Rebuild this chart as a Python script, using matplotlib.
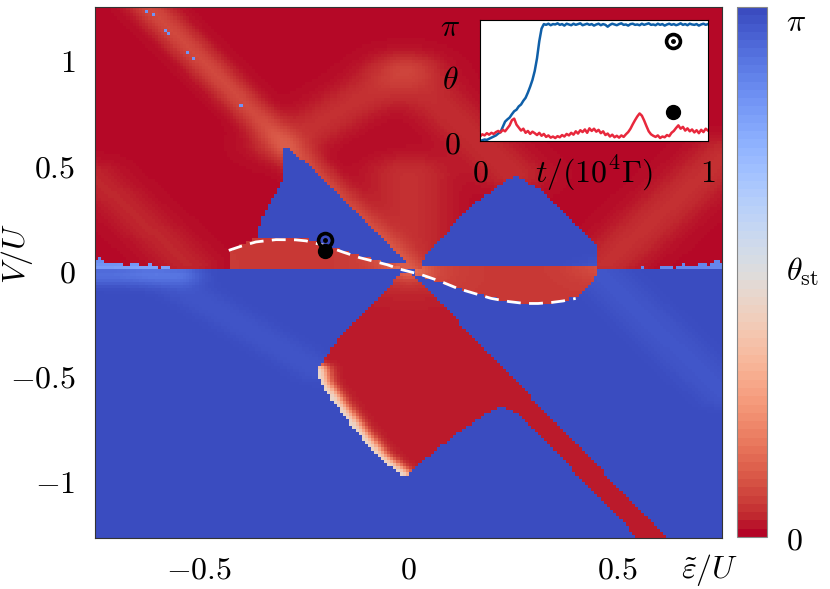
import numpy as np
import matplotlib
matplotlib.use("Agg")
import matplotlib.pyplot as plt
from matplotlib.path import Path
from matplotlib.cm import ScalarMappable
from matplotlib.colors import Normalize

plt.rcParams['mathtext.fontset'] = 'cm'
plt.rcParams['font.family'] = 'DejaVu Serif'
plt.rcParams['font.size'] = 23

# ---- phase diagram data (eps/U, V/U) ----
eps_lim = [-0.75, 0.75]
V_lim = [-1.27, 1.25]
n_eps, n_V = 200, 170

# regions with theta_st = pi in the upper half
blue_left = [(-0.302, 0.60), (-0.245, 0.51), (-0.157, 0.333), (-0.043, 0.11), (-0.007, 0.035),
             (-0.051, 0.032), (-0.157, 0.095), (-0.245, 0.148), (-0.317, 0.155), (-0.36, 0.16),
             (-0.357, 0.238), (-0.304, 0.429)]
blue_mountain = [(0.029, 0.014), (0.036, 0.062), (0.101, 0.205), (0.157, 0.319), (0.254, 0.457),
                 (0.319, 0.381), (0.391, 0.238), (0.452, 0.11), (0.452, 0.014)]

# regions with theta_st ~ 0 in the lower half (and the band under the dashed line)
red_kite = [(0.0, 0.0), (-0.019, -0.014), (-0.099, -0.19), (-0.171, -0.333), (-0.22, -0.476),
            (-0.213, -0.538), (-0.171, -0.652), (-0.123, -0.776), (-0.075, -0.89), (-0.019, -0.976),
            (-0.007, -0.986), (0.036, -0.905), (0.118, -0.776), (0.19, -0.676), (0.222, -0.652),
            (0.263, -0.681), (0.56, -1.30), (0.63, -1.30)]
red_band_right = [(0.03, 0.014), (0.452, 0.014), (0.452, -0.014), (0.432, -0.081), (0.399, -0.133),
                  (0.343, -0.152), (0.278, -0.157), (0.198, -0.133), (0.118, -0.086), (0.036, -0.032),
                  (0.01, -0.01)]
red_band_left = [(-0.43, 0.0), (-0.43, 0.095), (-0.36, 0.16), (-0.317, 0.155), (-0.245, 0.148),
                 (-0.157, 0.095), (-0.051, 0.032), (0.0, 0.0)]
red_levels = [0.07, 0.18, 0.18]

# noisy blue fringes above V = 0 near the edges
noise_left = [(-0.76, 0.0), (-0.76, 0.05), (-0.74, 0.06), (-0.72, 0.03), (-0.70, 0.045), (-0.68, 0.02),
              (-0.66, 0.04), (-0.64, 0.015), (-0.62, 0.03), (-0.60, 0.01), (-0.58, 0.02), (-0.56, 0.0)]
noise_right = [(0.46, 0.0), (0.50, 0.008), (0.53, 0.0), (0.56, 0.015), (0.59, 0.005), (0.62, 0.02),
               (0.64, 0.008), (0.66, 0.03), (0.68, 0.015), (0.70, 0.04), (0.72, 0.02), (0.74, 0.05),
               (0.76, 0.03), (0.76, 0.0)]
noise_level = 2.7

# lighter stripes: start, end, width, theta shift
red_stripes = [((-0.63, 1.27), (0.0, 0.0), 0.045, 0.24),
               ((-0.01, 0.95), (-0.30, 0.60), 0.08, 0.12),
               ((-0.01, 0.95), (0.25, 0.46), 0.08, 0.10),
               ((0.0, 0.0), (0.0, 0.45), 0.10, 0.12),
               ((0.47, 0.03), (0.76, 0.55), 0.08, 0.12),
               ((-0.76, 0.45), (-0.53, 0.03), 0.07, 0.08)]
kite_fringe = [(-0.22, -0.476), (-0.213, -0.538), (-0.171, -0.652), (-0.123, -0.776),
               (-0.075, -0.89), (-0.019, -0.976)]
blue_stripes = [((-0.22, -0.476), (-0.62, 0.0), 0.06, -0.07),
                ((0.457, -0.014), (0.754, -0.586), 0.07, -0.08),
                ((-0.76, -0.02), (-0.55, -0.02), 0.05, -0.25)]

speckles = [(-0.628, 1.238), (-0.616, 1.214), (-0.582, 1.152), (-0.575, 1.133),
            (-0.533, 1.048), (-0.514, 1.005), (-0.401, 0.795)]

# dashed curve
dash_eps = [-0.43, -0.40, -0.365, -0.317, -0.27, -0.245, -0.20, -0.157, -0.116, -0.051, -0.019,
            0.03, 0.074, 0.118, 0.174, 0.198, 0.24, 0.278, 0.31, 0.343, 0.37, 0.40]
dash_V = [0.095, 0.115, 0.135, 0.146, 0.145, 0.14, 0.118, 0.087, 0.06, 0.027, 0.005,
          -0.02, -0.05, -0.086, -0.119, -0.133, -0.148, -0.157, -0.157, -0.152, -0.145, -0.133]

# marked points
pt_open = (-0.2, 0.143)
pt_full = (-0.2, 0.092)

# ---- inset time series ----
blue_theta = [0.00, 0.02, 0.04, 0.03, 0.06, 0.09, 0.12, 0.15, 0.20, 0.24,
              0.38, 0.52, 0.58, 0.63, 0.72, 0.80, 0.84, 0.93, 0.98, 1.08,
              1.16, 1.30, 1.46, 1.64, 1.88, 2.22, 2.68, 3.02, 3.14,
              3.12, 3.15, 3.11, 3.14, 3.13, 3.16, 3.12, 3.14, 3.10, 3.15,
              3.13, 3.11, 3.15, 3.12, 3.14, 3.16, 3.11, 3.13, 3.15, 3.12,
              3.14, 3.10, 3.13, 3.15, 3.11, 3.14, 3.12, 3.07, 3.12, 3.15,
              3.13, 3.11, 3.14, 3.16, 3.12, 3.13, 3.10, 3.14, 3.15, 3.12,
              3.13, 3.11, 3.15, 3.12, 3.14, 3.16, 3.12, 3.13, 3.11, 3.15,
              3.12, 3.14, 3.10, 3.13, 3.15, 3.12, 3.14, 3.11, 3.13, 3.16,
              3.12, 3.14, 3.11, 3.15, 3.13, 3.12, 3.14, 3.10, 3.13, 3.15,
              3.12, 3.14]
red_theta = [0.12, 0.18, 0.15, 0.21, 0.17, 0.22, 0.19, 0.24, 0.27, 0.23,
             0.30, 0.26, 0.34, 0.42, 0.56, 0.60, 0.44, 0.36, 0.28, 0.33,
             0.22, 0.27, 0.19, 0.25, 0.21, 0.16, 0.22, 0.14, 0.19, 0.11,
             0.15, 0.09, 0.12, 0.08, 0.13, 0.10, 0.16, 0.12, 0.19, 0.15,
             0.22, 0.17, 0.26, 0.20, 0.29, 0.24, 0.31, 0.22, 0.34, 0.27,
             0.33, 0.25, 0.30, 0.21, 0.26, 0.16, 0.20, 0.12, 0.17, 0.10,
             0.14, 0.09, 0.15, 0.11, 0.18, 0.24, 0.33, 0.45, 0.56, 0.66,
             0.74, 0.68, 0.55, 0.40, 0.26, 0.18, 0.14, 0.11, 0.15, 0.08,
             0.12, 0.10, 0.16, 0.13, 0.22, 0.27, 0.35, 0.42, 0.33, 0.38,
             0.28, 0.34, 0.26, 0.31, 0.23, 0.29, 0.21, 0.30, 0.24, 0.33,
             0.28]
t_blue = np.linspace(0, 1, len(blue_theta))
t_red = np.linspace(0, 1, len(red_theta))
inset_open = (0.845, 2.69)
inset_full = (0.845, 0.78)


# ---- build the theta_st map on a grid ----
eps = np.linspace(eps_lim[0], eps_lim[1], n_eps)
V = np.linspace(V_lim[0], V_lim[1], n_V)
X, Y = np.meshgrid(eps, V)
pts = np.column_stack([X.ravel(), Y.ravel()])


def inside(poly):
    return Path(poly).contains_points(pts).reshape(X.shape)


def seg_dist(a, b):
    a = np.array(a)
    b = np.array(b)
    d = b - a
    s = ((X - a[0]) * d[0] + (Y - a[1]) * d[1]) / (d @ d)
    s = np.clip(s, 0, 1)
    return np.hypot(X - a[0] - s * d[0], Y - a[1] - s * d[1])


theta = np.where(Y < 0, np.pi, 0.02)
for poly in [blue_left, blue_mountain]:
    theta[inside(poly)] = np.pi
for poly, lev in zip([red_kite, red_band_right, red_band_left], red_levels):
    theta[inside(poly)] = lev
for poly in [noise_left, noise_right]:
    theta[inside(poly)] = noise_level

red = theta < np.pi / 2
for a, b, w, amp in red_stripes:
    theta[red] += (amp * np.exp(-(seg_dist(a, b) / w) ** 2))[red]
kite = inside(red_kite)
d_edge = np.min([seg_dist(kite_fringe[i], kite_fringe[i + 1]) for i in range(len(kite_fringe) - 1)], axis=0)
theta[kite] += (1.35 * np.exp(-(d_edge / 0.025) ** 2))[kite]
blue = ~red
for a, b, w, amp in blue_stripes:
    theta[blue] += (amp * np.exp(-(seg_dist(a, b) / w) ** 2))[blue]
for sx, sy in speckles:
    i = np.argmin(np.abs(V - sy))
    j = np.argmin(np.abs(eps - sx))
    theta[i, j] = 2.6
theta = np.clip(theta, 0, np.pi)

# ---- figure ----
fig = plt.figure(figsize=(8.3, 5.89), dpi=100)
ax = fig.add_axes([95 / 830, 51 / 589, 627 / 830, 531 / 589])
im = ax.imshow(theta, origin='lower', extent=[eps_lim[0], eps_lim[1], V_lim[0], V_lim[1]],
               aspect='auto', cmap='coolwarm_r', vmin=0, vmax=np.pi, interpolation='nearest')
ax.plot(dash_eps, dash_V, color='white', lw=2, dashes=(5, 3))
ax.plot(*pt_open, 'o', ms=10, mfc='none', mec='black', mew=2.6)
ax.plot(*pt_open, 'o', ms=2.5, color='black')
ax.plot(*pt_full, 'o', ms=10, color='black')
ax.set_xlim(eps_lim)
ax.set_ylim(V_lim)
ax.set_xticks([-0.5, 0, 0.5])
ax.set_xticklabels(['$-0.5$', '$0$', '$0.5$'])
ax.set_yticks([-1, -0.5, 0, 0.5, 1])
ax.set_yticklabels(['$-1$', '$-0.5$', '$0$', '$0.5$', '$1$'])
ax.tick_params(length=0)
ax.tick_params(axis='x', pad=12)
ax.tick_params(axis='y', pad=14)
for sp in ax.spines.values():
    sp.set_color('#333333')
ax.text(0.98, -0.06, r'$\tilde{\varepsilon}/U$', transform=ax.transAxes, ha='center', va='center')
ax.text(-0.125, 0.535, '$V/U$', transform=ax.transAxes, ha='center', va='center', rotation=90)

cax = fig.add_axes([737 / 830, 52 / 589, 30 / 830, 530 / 589])
sm = ScalarMappable(norm=Normalize(0, np.pi), cmap=plt.get_cmap('coolwarm_r', 64))
cb = fig.colorbar(sm, cax=cax, ticks=[0, np.pi])
cb.ax.set_yticklabels(['$0$', r'$\pi$'])
cb.ax.get_yticklabels()[1].set_va('top')
cb.ax.tick_params(length=0, pad=14)
cb.outline.set_edgecolor('#888888')
cb.outline.set_linewidth(0.8)
cax.text(2.2, 0.5, r'$\theta_{\rm st}$', transform=cax.transAxes, ha='center', va='center')

axi = fig.add_axes([480 / 830, 448 / 589, 228 / 830, 121 / 589])
axi.plot(t_blue, blue_theta, color='#0f5fa8', lw=1.8)
axi.plot(t_red, red_theta, color='#e8283c', lw=1.8)
axi.plot(*inset_open, 'o', ms=10, mfc='none', mec='black', mew=2.6)
axi.plot(*inset_open, 'o', ms=2.5, color='black')
axi.plot(*inset_full, 'o', ms=10, color='black')
axi.set_xlim(0, 1)
axi.set_ylim(0, 3.25)
axi.set_xticks([0, 1])
axi.set_xticklabels(['$0$', '$1$'])
axi.set_yticks([0, np.pi])
axi.set_yticklabels(['$0$', r'$\pi$'])
axi.tick_params(length=0)
axi.tick_params(axis='x', pad=12)
axi.tick_params(axis='y', pad=14)
axi.text(-0.13, 0.5, r'$\theta$', transform=axi.transAxes, ha='center', va='center')
axi.text(0.5, -0.27, r'$t/(10^4\Gamma)$', transform=axi.transAxes, ha='center', va='center')

fig.savefig('out.png', dpi=100)
